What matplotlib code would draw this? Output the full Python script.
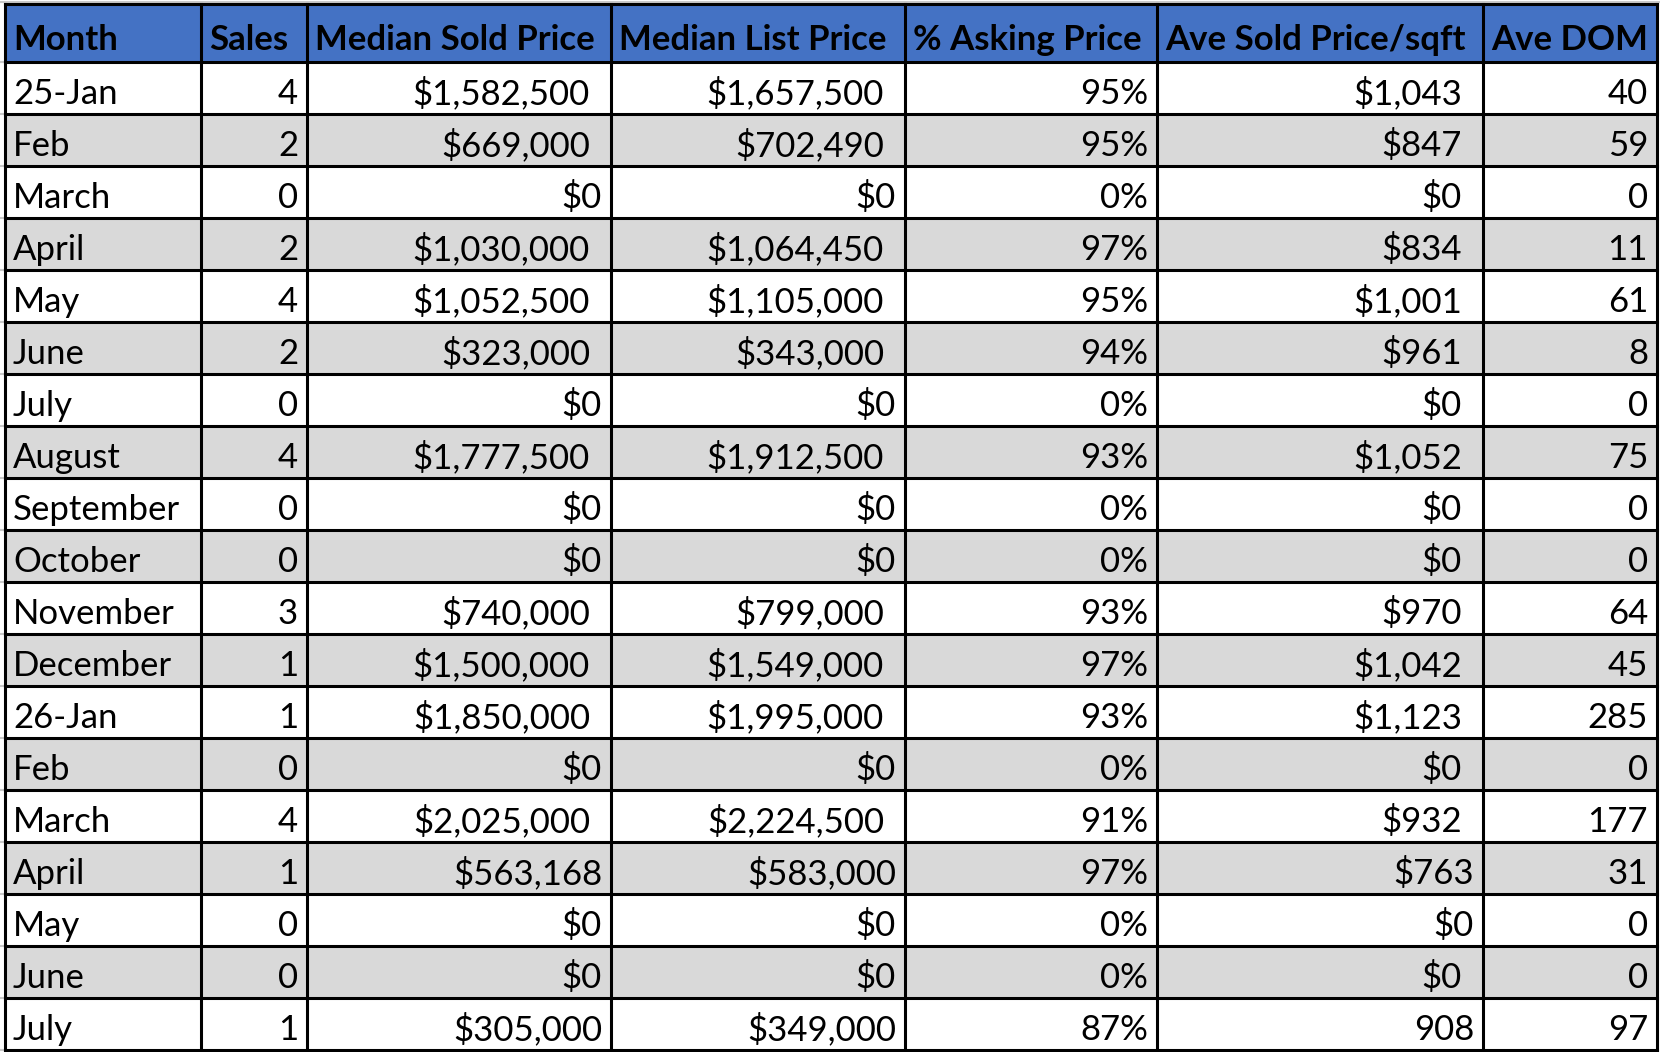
import matplotlib.pyplot as plt
from matplotlib.patches import Rectangle

# table data
headers = ["Month", "Sales", "Median Sold Price", "Median List Price",
           "% Asking Price", "Ave Sold Price/sqft", "Ave DOM"]
months = ["25-Jan", "Feb", "March", "April", "May", "June", "July", "August",
          "September", "October", "November", "December", "26-Jan", "Feb",
          "March", "April", "May", "June", "July"]
sales = [4, 2, 0, 2, 4, 2, 0, 4, 0, 0, 3, 1, 1, 0, 4, 1, 0, 0, 1]
sold_price = [1582500, 669000, 0, 1030000, 1052500, 323000, 0, 1777500, 0, 0,
              740000, 1500000, 1850000, 0, 2025000, 563168, 0, 0, 305000]
list_price = [1657500, 702490, 0, 1064450, 1105000, 343000, 0, 1912500, 0, 0,
              799000, 1549000, 1995000, 0, 2224500, 583000, 0, 0, 349000]
pct_asking = [95, 95, 0, 97, 95, 94, 0, 93, 0, 0, 93, 97, 93, 0, 91, 97, 0, 0, 87]
price_sqft = [1043, 847, 0, 834, 1001, 961, 0, 1052, 0, 0, 970, 1042, 1123, 0,
              932, 763, 0, 0, 908]
ave_dom = [40, 59, 0, 11, 61, 8, 0, 75, 0, 0, 64, 45, 285, 0, 177, 31, 0, 0, 97]

# cell number formats as they were in the sheet ("acct" has a trailing pad)
price_fmt = ["acct", "acct", "cur", "acct", "acct", "acct", "cur", "acct", "cur",
             "cur", "acct", "acct", "acct", "cur", "acct", "cur", "cur", "cur", "cur"]
sqft_fmt = ["acct"] * 15 + ["cur", "cur", "acct", "plain"]

# layout in pixels
col_edges = [5, 201, 307, 611, 905, 1157, 1483, 1657]
head_top, head_bot, row_h = 4, 62, 52
n_rows = len(months)
row_edges = [head_bot + row_h * i for i in range(n_rows + 1)]

BLUE = "#4472C4"
GREY = "#D9D9D9"
FONT = "Lato"
FS = 25
PAD = 9
ACCT_PAD = 21


def money(v):
    return "${:,}".format(v)


def fmt_cell(v, f):
    if f == "plain":
        return "{:,}".format(v), PAD
    return money(v), ACCT_PAD if f == "acct" else PAD


fig = plt.figure(figsize=(16.6, 10.52), dpi=100)
ax = fig.add_axes([0, 0, 1, 1])
ax.set_xlim(0, 1660)
ax.set_ylim(1052, 0)
ax.axis("off")

# faint spreadsheet gridlines outside the table
ax.plot([0, 1660], [1.5, 1.5], color="#C8C8C8", lw=1.5)
for y in [head_bot] + row_edges:
    ax.plot([0, col_edges[0]], [y, y], color="#C8C8C8", lw=1.5)

left, right = col_edges[0], col_edges[-1]

# header
ax.add_patch(Rectangle((left, head_top), right - left, head_bot - head_top,
                       facecolor=BLUE, edgecolor="none"))
for j, h in enumerate(headers):
    ax.text(col_edges[j] + PAD - 1, head_bot - 12, h, fontsize=FS, fontweight="bold",
            family=FONT, ha="left", va="baseline", color="black")

# body
for i in range(n_rows):
    y0, y1 = row_edges[i], row_edges[i + 1]
    if i % 2 == 1:
        ax.add_patch(Rectangle((left, y0), right - left, y1 - y0,
                               facecolor=GREY, edgecolor="none"))
    base = y1 - 10
    ax.text(col_edges[0] + PAD - 1, base, months[i], fontsize=FS, family=FONT,
            ha="left", va="baseline")
    cells = [
        (str(sales[i]), PAD),
        fmt_cell(sold_price[i], price_fmt[i]),
        fmt_cell(list_price[i], price_fmt[i]),
        ("{}%".format(pct_asking[i]), PAD),
        fmt_cell(price_sqft[i], sqft_fmt[i]),
        (str(ave_dom[i]), PAD),
    ]
    for j, (txt, pad) in enumerate(cells, start=1):
        ax.text(col_edges[j + 1] - pad, base, txt, fontsize=FS, family=FONT,
                ha="right", va="baseline")

# borders
LW = 2.2
for y in [head_top] + row_edges:
    ax.plot([left, right], [y, y], color="black", lw=LW, solid_capstyle="projecting")
for x in col_edges:
    ax.plot([x, x], [head_top, row_edges[-1]], color="black", lw=LW,
            solid_capstyle="projecting")

fig.savefig("out.png", dpi=100)
